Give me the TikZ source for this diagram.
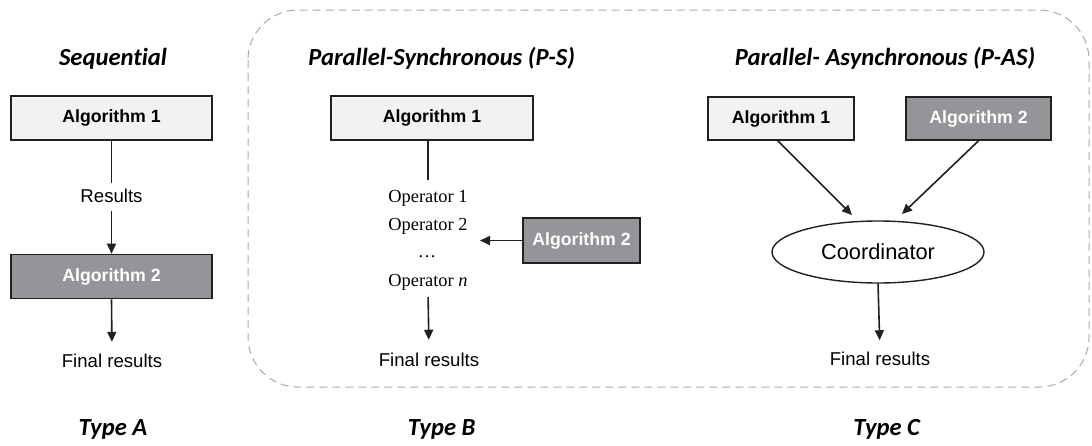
\documentclass[tikz,border=0pt]{standalone}
\usepackage{fontspec}
\setmainfont{Liberation Sans}
\newfontfamily\serf{Liberation Serif}
\newfontfamily\ttlfont[Ligatures={NoCommon}]{Carlito}
\usetikzlibrary{arrows.meta,shapes.geometric}
\definecolor{lightbox}{HTML}{F1F2F2}
\definecolor{darkbox}{HTML}{939598}
\definecolor{edgec}{HTML}{231F20}
\definecolor{dashc}{HTML}{A7A9AC}
\begin{document}
\begin{tikzpicture}[x=1pt,y=-1pt,
 algbox/.style={draw=edgec, line width=1.6pt, minimum height=44pt, font=\fontsize{17.7}{20}\selectfont\bfseries, inner sep=0pt},
 light/.style={algbox, fill=lightbox, text=black},
 dark/.style={algbox, fill=darkbox, text=white},
 lbl/.style={inner sep=0pt, anchor=base, font=\fontsize{18.6}{21}\selectfont},
 op/.style={inner sep=0pt, anchor=base, font=\serf\fontsize{18.4}{21}\selectfont},
 ttl/.style={inner sep=0pt, anchor=base, font=\ttlfont\bfseries\itshape\fontsize{24.6}{28}\selectfont},
 conn/.style={draw=edgec, line width=1.6pt},
 arr/.style={conn, -{Triangle[length=10pt,width=9pt]}},
 coord/.style={draw=edgec, line width=1.4pt, ellipse, minimum width=212pt, minimum height=62pt, inner sep=0pt, font=\fontsize{21.8}{24}\selectfont},
]
\useasboundingbox (0,0) rectangle (1092,445);
% dashed frame
\draw[dashc, line width=1pt, dash pattern=on 8pt off 5pt, rounded corners=50pt] (248,10) rectangle (1089,387);

% Titles
\node[ttl] (tA) at (113,65) {Sequential};
\node[ttl] (tB) at (441.7,65) {Parallel-Synchronous (P-S)};
\node[ttl] (tC) at (885,65) {Parallel- Asynchronous (P-AS)};
\node[ttl] (yA) at (113,435) {Type A};
\node[ttl] (yB) at (441.7,435) {Type B};
\node[ttl] (yC) at (886.7,435) {Type C};

% Type A
\node[light, minimum width=201pt] (a1) at (111.5,118) {Algorithm 1};
\node[lbl] (res) at (111.5,202.7) {Results};
\node[dark, minimum width=201pt] (a2) at (111.5,276.5) {Algorithm 2};
\node[lbl] (finA) at (112,367) {Final results};
\draw[conn, shorten >=6pt] (a1.south) -- (res.north);
\draw[arr, shorten <=7.5pt] (res.south) -- (a2.north);
\draw[arr, shorten >=11.5pt] (a2.south) -- (finA.north);

% Type B
\node[light, minimum width=202pt] (b1) at (432,118) {Algorithm 1};
\node[op] (op1) at (428,202.7) {Operator 1};
\node[op] (op2) at (428,230.7) {Operator 2};
\node[op] (opd) at (427,257.5) {…};
\node[op] (opn) at (428,286.7) {Operator \textit{n}};
\node[dark, minimum width=117pt, minimum height=45pt] (b2) at (581.5,240.5) {Algorithm 2};
\node[lbl] (finB) at (429,366) {Final results};
\coordinate (tipB) at (480,240.5);
\draw[conn, shorten >=10pt] (b1.south -| op1.north) -- (op1.north);
\draw[arr] (b2.west) -- (tipB);
\draw[arr, shorten <=6pt, shorten >=12.6pt] (opn.south) -- (finB.north);

% Type C
\node[light, minimum width=146pt, minimum height=43pt] (c1) at (781,118.5) {Algorithm 1};
\node[dark, minimum width=145pt, minimum height=43pt] (c2) at (978.5,118.5) {Algorithm 2};
\node[coord] (co) at (878,252) {Coordinator};
\node[lbl] (finC) at (880,365.5) {Final results};
\coordinate (t1) at (852,215);
\coordinate (t2) at (902,214);
\coordinate (s1) at (777,140);
\draw[arr] (s1) -- (t1);
\draw[arr] (c2.south) -- (t2);
\draw[arr, shorten >=11.6pt] (co.south) -- (finC.north);
\end{tikzpicture}
\end{document}
